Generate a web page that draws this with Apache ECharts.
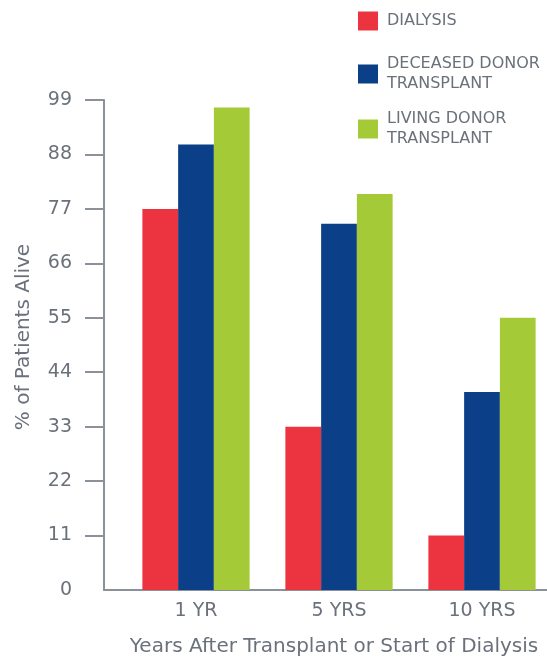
<!DOCTYPE html>
<html>
<head>
<meta charset="utf-8">
<script src="https://cdn.jsdelivr.net/npm/echarts@6/dist/echarts.min.js"></script>
<style>
  html, body { margin: 0; padding: 0; background: #fff; }
  #chart { width: 547px; height: 661px; }
</style>
</head>
<body>
<div id="chart"></div>
<script>
const categories = ['1 YR', '5 YRS', '10 YRS']
const seriesNames = ['DIALYSIS', 'DECEASED DONOR\nTRANSPLANT', 'LIVING DONOR\nTRANSPLANT']
const dialysis = [77, 33, 11]
const deceasedDonor = [90, 74, 40]
const livingDonor = [97.5, 80, 55]
const yTicks = [11, 22, 33, 44, 55, 66, 77, 88, 99]

const colors = ['#ec3340', '#0b3f87', '#a5ca38']
const font = 'DejaVu Sans'
const grey = '#6b717b'
const axisGrey = '#8b919a'

function legendFor(i, top) {
  const twoLines = seriesNames[i].includes('\n')
  return {
    left: 358,
    top: top,
    padding: 0,
    selectedMode: false,
    icon: 'rect',
    itemWidth: 20,
    itemHeight: 19,
    data: [seriesNames[i]],
    textStyle: {
      fontFamily: font,
      fontSize: 16,
      lineHeight: 20,
      color: grey,
      padding: twoLines ? [20, 0, 0, 4] : [0, 0, 0, 4]
    }
  }
}

const chart = echarts.init(document.getElementById('chart'), null, { renderer: 'canvas' })

chart.setOption({
  animation: false,
  color: colors,
  legend: [legendFor(0, 11), legendFor(1, 44), legendFor(2, 99)],
  grid: [
    { left: 124.5, width: 429, top: 100, bottom: 71, outerBoundsMode: 'none' },
    { left: 104, right: 0, top: 100, bottom: 71, outerBoundsMode: 'none' }
  ],
  xAxis: [
    {
      type: 'category',
      gridIndex: 0,
      data: categories,
      axisLine: { show: false },
      axisTick: { show: false },
      axisLabel: { margin: 12, fontFamily: font, fontSize: 19, color: grey }
    },
    {
      type: 'category',
      gridIndex: 1,
      data: categories,
      axisLine: { lineStyle: { color: axisGrey, width: 2 } },
      axisTick: { show: false },
      axisLabel: { show: false },
      name: 'Years After Transplant or Start of Dialysis',
      nameLocation: 'middle',
      nameGap: 47,
      nameTextStyle: { fontFamily: font, fontSize: 20, color: grey, padding: [0, 0, 0, 17] }
    }
  ],
  yAxis: [
    {
      type: 'value',
      gridIndex: 0,
      min: 0,
      max: 99,
      interval: 11,
      offset: 20.5,
      splitLine: { show: false },
      axisLine: { show: true, lineStyle: { color: axisGrey, width: 2 } },
      axisTick: { show: true, length: 19, customValues: yTicks, lineStyle: { color: axisGrey, width: 2 } },
      axisLabel: { margin: 32, fontFamily: font, fontSize: 19, color: grey },
      name: '% of Patients Alive',
      nameLocation: 'middle',
      nameGap: 70,
      nameTextStyle: { fontFamily: font, fontSize: 20, color: grey, padding: [0, 0, 0, 16] }
    },
    {
      type: 'value',
      gridIndex: 1,
      min: 0,
      max: 99,
      show: false
    }
  ],
  series: [
    { name: seriesNames[0], type: 'bar', data: dialysis, barGap: 0, barCategoryGap: '25%' },
    { name: seriesNames[1], type: 'bar', data: deceasedDonor, barGap: 0, barCategoryGap: '25%' },
    { name: seriesNames[2], type: 'bar', data: livingDonor, barGap: 0, barCategoryGap: '25%' }
  ]
})
</script>
</body>
</html>
